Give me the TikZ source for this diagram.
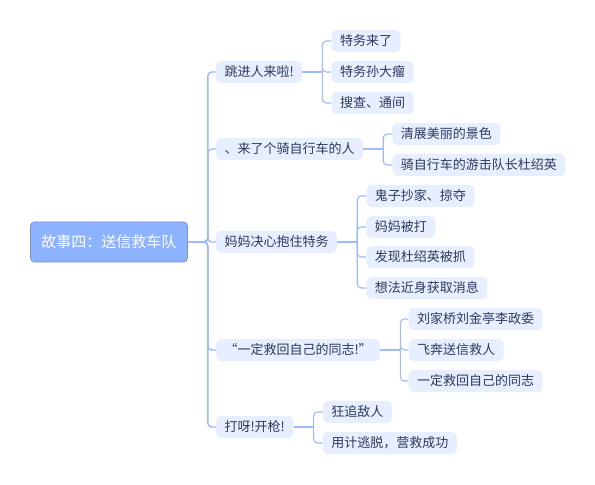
\documentclass[tikz,border=0pt]{standalone}
\usepackage{fontspec}
\setmainfont{Noto Sans CJK SC}
\usepackage{xcolor}
\usepackage{tikz}
\usetikzlibrary{positioning}
\definecolor{rootfill}{HTML}{8DB2FF}
\definecolor{rootdraw}{HTML}{7E8FCB}
\definecolor{nodefill}{HTML}{E6EEFF}
\definecolor{nodetext}{HTML}{2D3A5C}
\definecolor{linkblue}{HTML}{9DBAFF}
\tikzset{map-root/.style={draw=rootdraw, fill=rootfill, text=white, line width=0.8pt, rounded corners=4bp, minimum height=40bp, inner xsep=11bp, inner ysep=0, font=\fontsize{15bp}{17bp}\selectfont}}
\tikzset{map-topic/.style={fill=nodefill, text=nodetext, rounded corners=5bp, minimum height=22bp, inner xsep=8.5bp, inner ysep=0, font=\fontsize{13bp}{15bp}\selectfont}}
\tikzset{map-leaf/.style={map-topic}}
\tikzset{trunk-line/.style={draw=linkblue, line width=1.4pt, rounded corners=4bp}}
\tikzset{topic-line/.style={draw=linkblue, line width=2pt}}
\tikzset{leaf-line/.style={draw=linkblue, line width=1.1pt, rounded corners=4bp}}

\begin{document}
\begin{tikzpicture}[x=1bp, y=-1bp]
            \useasboundingbox (0,0) rectangle (595,485);

            \node[map-root, anchor=west] (root) at (30,242) {故事四：送信救车队};

            \node[map-topic, right=28bp of root, yshift=170bp] (topic1) {跳进人来啦!};
            \node[map-topic, right=28bp of root, yshift=93bp] (topic2) {、来了个骑自行车的人};
            \node[map-topic, right=28bp of root] (topic3) {妈妈决心抱住特务};
            \node[map-topic, right=28bp of root, yshift=-108bp] (topic4) {“一定救回自己的同志!”};
            \node[map-topic, right=28bp of root, yshift=-185bp] (topic5) {打呀!开枪!};

            \node[map-leaf, right=29bp of topic1, yshift=31bp] (leaf11) {特务来了};
            \node[map-leaf, right=29bp of topic1] (leaf12) {特务孙大瘤};
            \node[map-leaf, right=29bp of topic1, yshift=-31bp] (leaf13) {搜查、通间};

            \node[map-leaf, right=29bp of topic2, yshift=15bp] (leaf21) {清展美丽的景色};
            \node[map-leaf, right=29bp of topic2, yshift=-16bp] (leaf22) {骑自行车的游击队长杜绍英};

            \node[map-leaf, right=29bp of topic3, yshift=46bp] (leaf31) {鬼子抄家、掠夺};
            \node[map-leaf, right=29bp of topic3, yshift=15bp] (leaf32) {妈妈被打};
            \node[map-leaf, right=29bp of topic3, yshift=-15bp] (leaf33) {发现杜绍英被抓};
            \node[map-leaf, right=29bp of topic3, yshift=-46bp] (leaf34) {想法近身获取消息};

            \node[map-leaf, right=28bp of topic4, yshift=31bp] (leaf41) {刘家桥刘金亭李政委};
            \node[map-leaf, right=28bp of topic4] (leaf42) {飞奔送信救人};
            \node[map-leaf, right=28bp of topic4, yshift=-31bp] (leaf43) {一定救回自己的同志};

            \node[map-leaf, right=29bp of topic5, yshift=15bp] (leaf51) {狂追敌人};
            \node[map-leaf, right=29bp of topic5, yshift=-16bp] (leaf52) {用计逃脱，营救成功};

            \foreach \t in {1,...,5}
                \draw[trunk-line] (root.east) -- ++(20bp,0) |- (topic\t.west);

            \foreach \t/\n in {1/3, 2/2, 3/4, 4/3, 5/2} {
                \draw[topic-line] (topic\t.east) -- ++(20bp,0);
                \foreach \k in {1,...,\n}
                    \draw[leaf-line] (topic\t.east) ++(20bp,0) |- (leaf\t\k.west);
            }
        \end{tikzpicture}
\end{document}
